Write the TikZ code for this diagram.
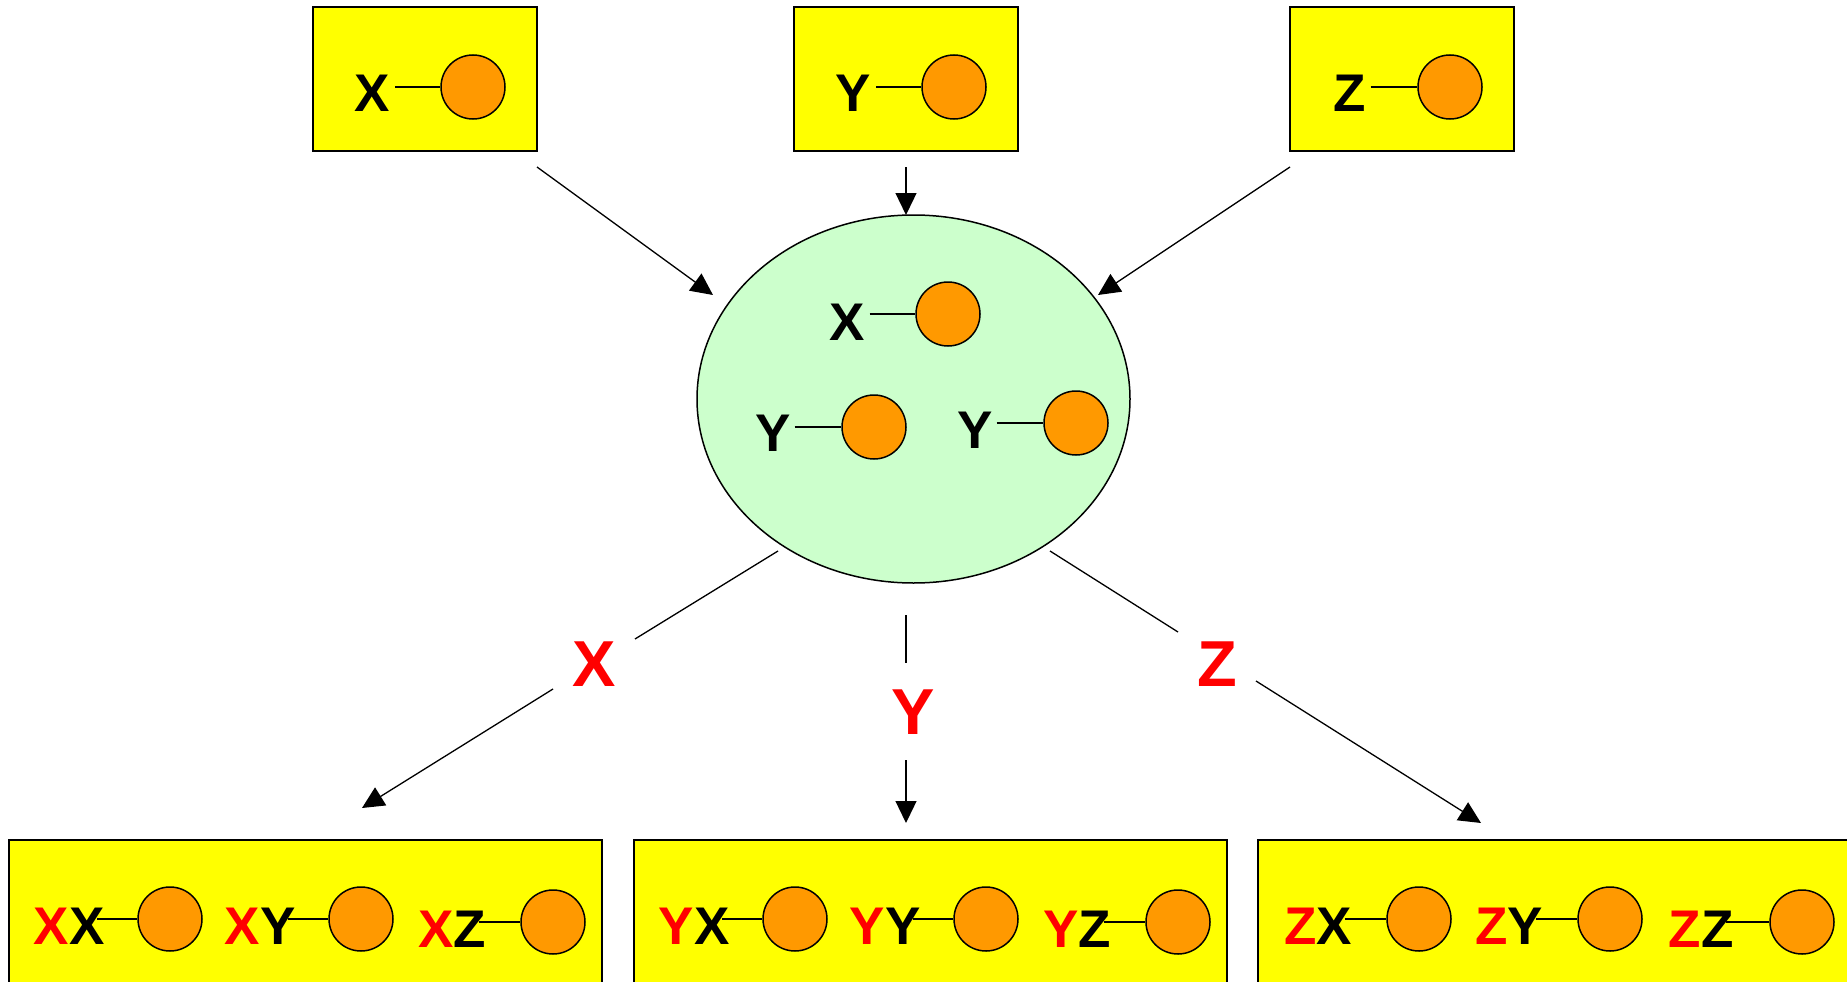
\documentclass[tikz,border=0pt]{standalone}
\usepackage{fontspec}
\setmainfont{Liberation Sans}
\usetikzlibrary{arrows.meta,calc,shapes.geometric}
\definecolor{ballorange}{HTML}{FF9900}
\definecolor{cellgreen}{HTML}{CCFFCC}
\definecolor{boxyellow}{HTML}{FFFF00}
\definecolor{labred}{HTML}{FF0000}
\begin{document}
\begin{tikzpicture}[x=1pt,y=-1pt,
  box/.style={draw=black,line width=1.5pt,fill=boxyellow,inner sep=0},
  ball/.style={circle,draw=black,line width=1.5pt,fill=ballorange,minimum size=64pt,inner sep=0},
  lett/.style={font=\fontsize{53}{53}\bfseries\selectfont,inner sep=0,outer sep=0},
  redlab/.style={font=\fontsize{65}{65}\bfseries\selectfont,text=labred,inner sep=0},
  stick/.style={line width=1.3pt},
  conn/.style={line width=1.3pt},
  arr/.style={line width=1.3pt,-{Triangle[length=22pt,width=21pt]}},
]
\useasboundingbox (0,0) rectangle (1847,982);
\fill[white] (0,0) rectangle (1847,982);

% top boxes
\foreach \bx/\L [count=\i] in {313/X,794/Y,1290/Z} {
  \node[box,minimum width=224pt,minimum height=144pt] (top\i) at (\bx+112,79) {};
  \node[lett] (tt\i) at (\bx+59.5,93.5) {\L};
  \node[ball] (tc\i) at (\bx+160,87) {};
  \draw[stick] ($(tt\i.east|-tc\i.center)+(5,0)$) -- (tc\i.west);
}

% central cell
\node[draw=black,line width=1.5pt,fill=cellgreen,ellipse,minimum width=433pt,minimum height=368pt,inner sep=0] (cell) at (913.5,399) {};
\node[lett] (ex) at (847,322) {X};
\node[ball] (ecx) at (948,314) {};
\draw[stick] ($(ex.east|-ecx.center)+(5,0)$) -- (ecx.west);
\node[lett] (ey1) at (773,433) {Y};
\node[ball] (ecy1) at (874,427) {};
\draw[stick] ($(ey1.east|-ecy1.center)+(4,0)$) -- (ecy1.west);
\node[lett] (ey2) at (975,430.5) {Y};
\node[ball] (ecy2) at (1076,423) {};
\draw[stick] ($(ey2.east|-ecy2.center)+(4,0)$) -- (ecy2.west);

% arrows into the cell
\coordinate (i1s) at (537,167); \coordinate (i1e) at (713,295);
\coordinate (i2s) at (906,167); \coordinate (i2e) at (906,215);
\coordinate (i3s) at (1290,167); \coordinate (i3e) at (1098,295);
\draw[arr] (i1s) -- (i1e);
\draw[arr] (i2s) -- (i2e);
\draw[arr] (i3s) -- (i3e);

% labels
\node[redlab] (lx) at (594,664) {X};
\node[redlab] (ly) at (913,712) {Y};
\node[redlab] (lz) at (1217,664) {Z};

% outgoing connectors
\coordinate (o1a) at (778,551); \coordinate (o1b) at (635,639);
\coordinate (o1c) at (553,689); \coordinate (o1d) at (362,808);
\coordinate (o2a) at (906,615); \coordinate (o2b) at (906,663);
\coordinate (o2c) at (906,760); \coordinate (o2d) at (906,823);
\coordinate (o3a) at (1050,551); \coordinate (o3b) at (1178,632);
\coordinate (o3c) at (1256,681); \coordinate (o3d) at (1481,823);
\draw[conn] (o1a) -- (o1b);
\draw[arr] (o1c) -- (o1d);
\draw[conn] (o2a) -- (o2b);
\draw[arr] (o2c) -- (o2d);
\draw[conn] (o3a) -- (o3b);
\draw[arr] (o3c) -- (o3d);

% bottom boxes
\foreach \off/\R [count=\i] in {0/X,625/Y,1249/Z} {
  \node[box,minimum width=593pt,minimum height=200pt] (bot\i) at (\off+305.5,940) {};
  \foreach \dx/\B/\ty/\cy [count=\j] in {69/X/926.5/919,260/Y/926.5/919,452/Z/929.5/922} {
    \node[lett] (bt\i\j) at (\off+\dx,\ty) {\textcolor{labred}{\R}\B};
    \node[ball] (bc\i\j) at (\off+\dx+101,\cy) {};
    \draw[stick] ($(bt\i\j.east|-bc\i\j.center)+(-7,0)$) -- (bc\i\j.west);
  }
}
\end{tikzpicture}
\end{document}
